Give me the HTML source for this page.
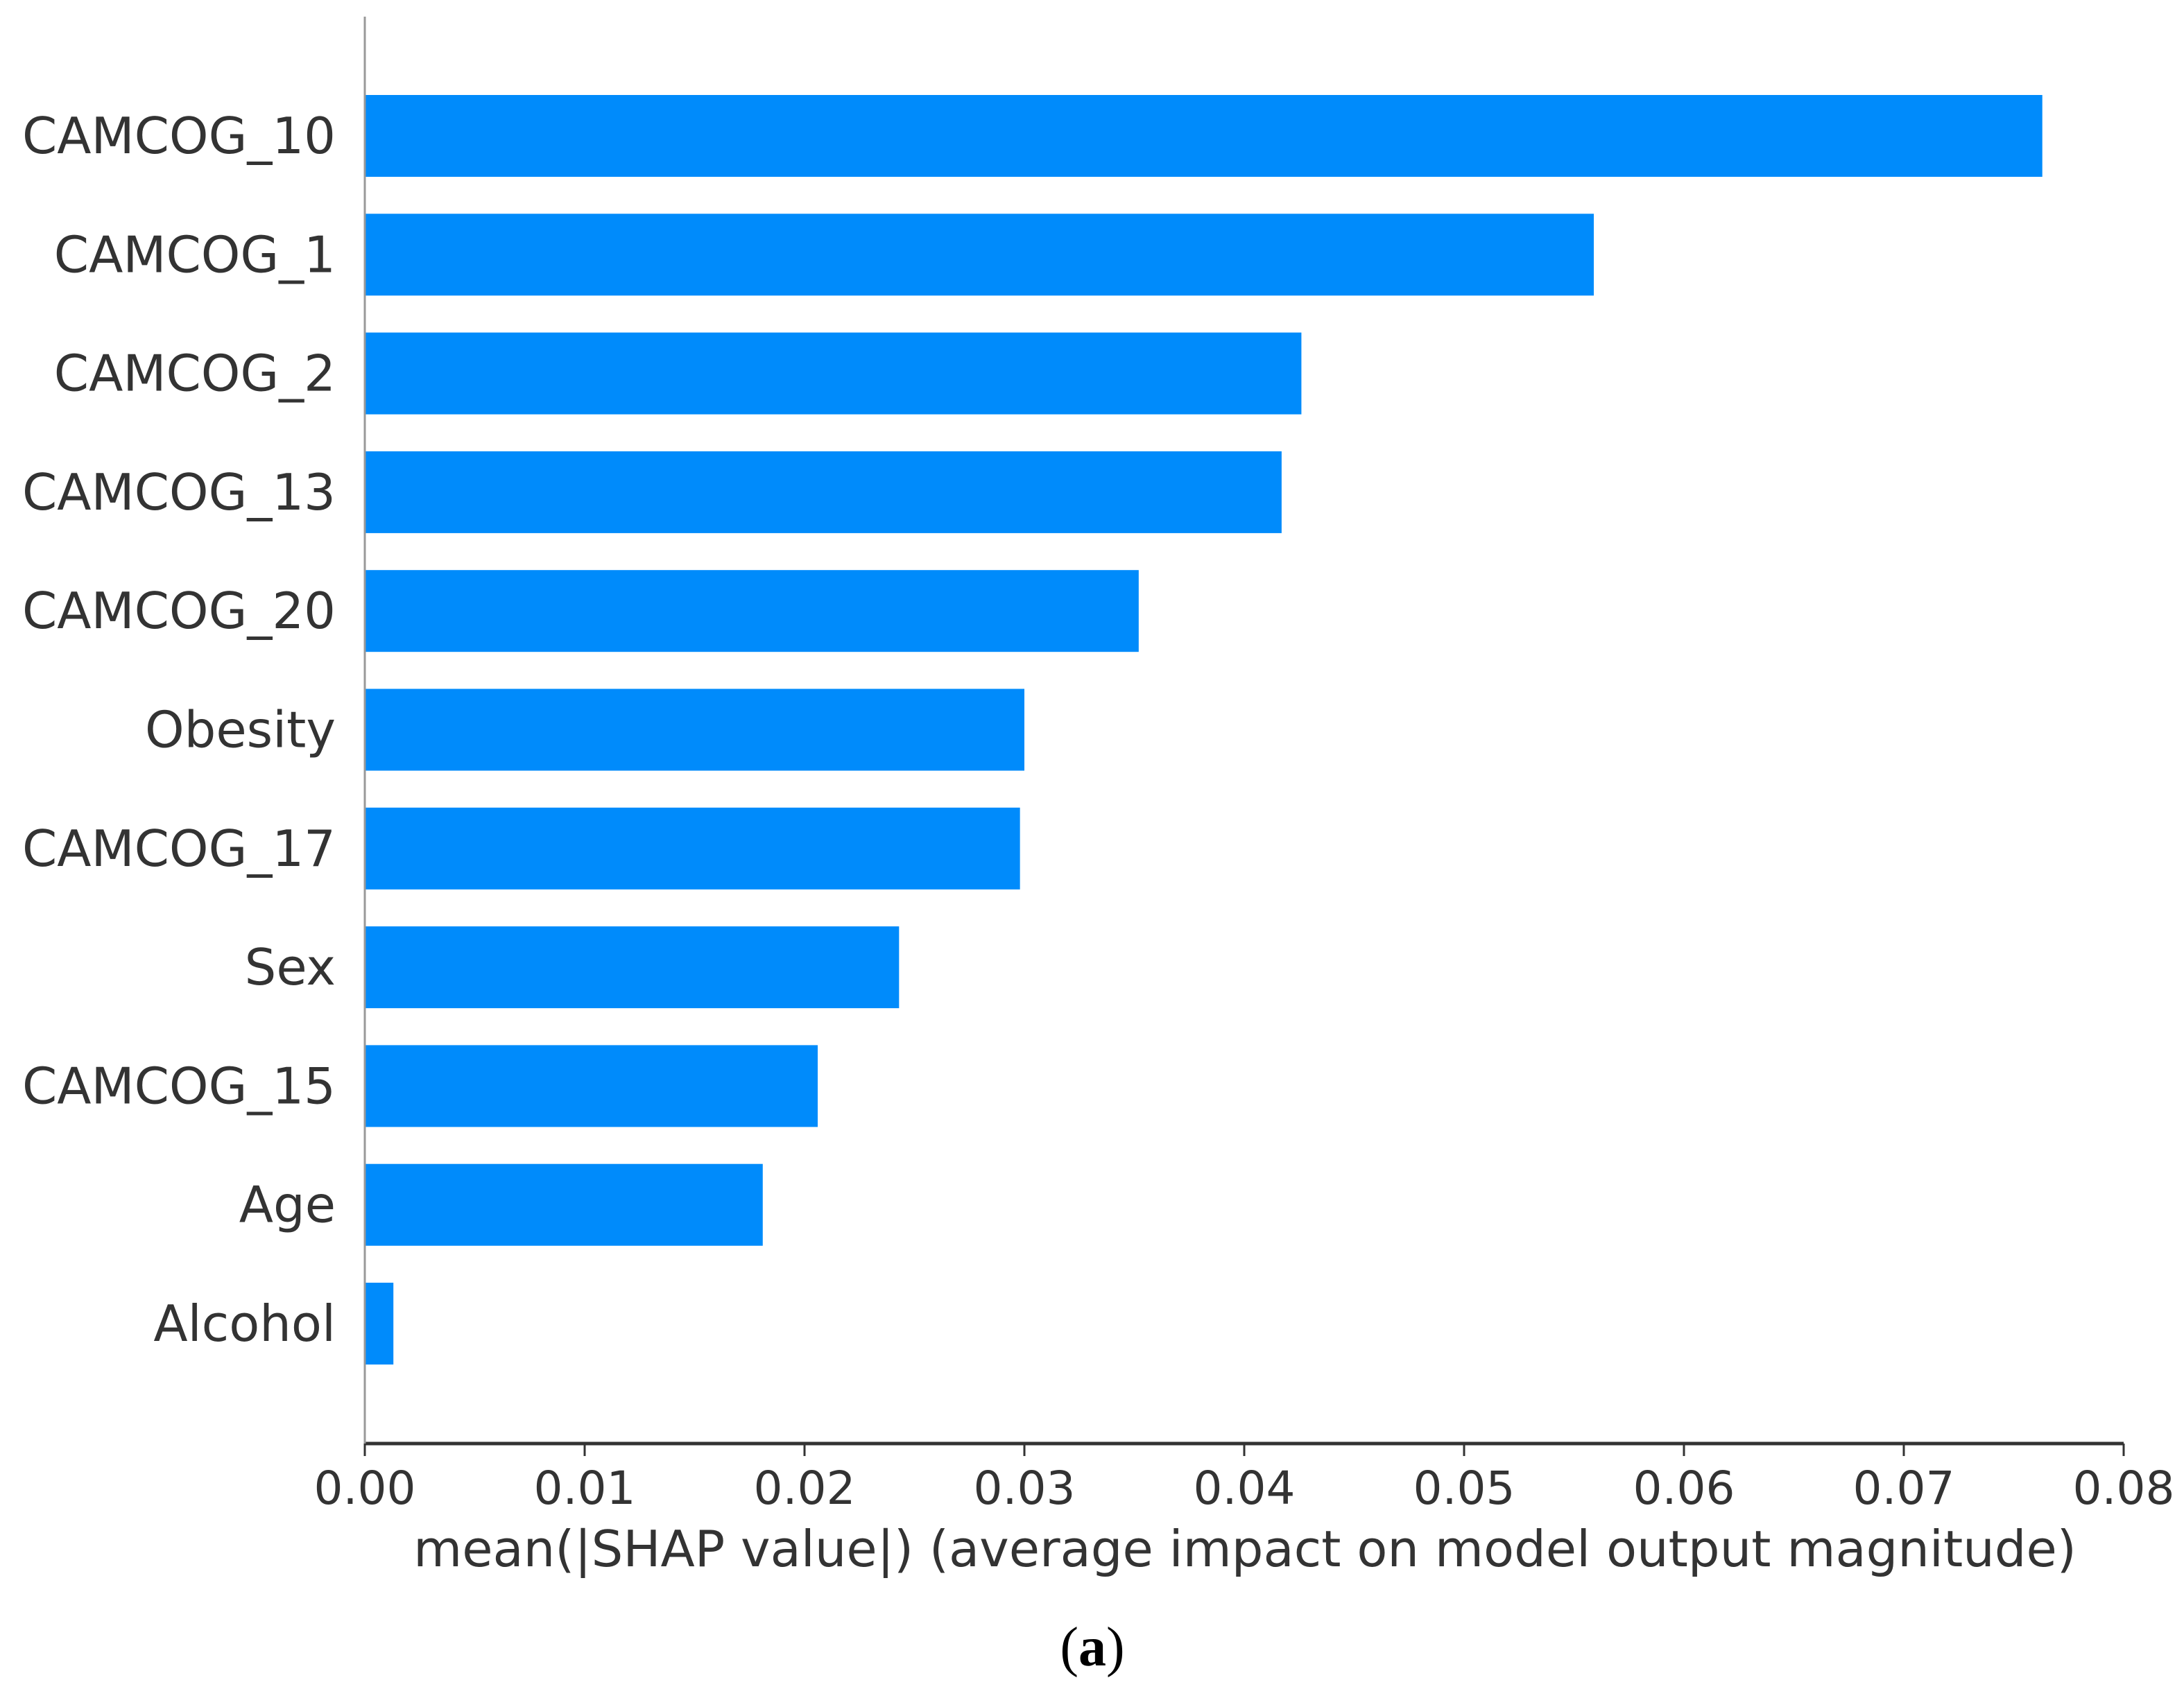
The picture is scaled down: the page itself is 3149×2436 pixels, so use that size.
<!DOCTYPE html>
<html><head><meta charset="utf-8"><style>
html,body{margin:0;padding:0;background:#fff;}
svg{display:block;}
text{font-family:"DejaVu Sans","Liberation Sans",sans-serif;fill:#333;}
</style></head><body>
<svg id="chart" width="3149" height="2436" viewBox="0 0 3149 2436" xmlns="http://www.w3.org/2000/svg">
<g id="bars"></g>
<g id="ylabels"></g>
<g id="xaxis"></g>
<line x1="526" y1="24" x2="526" y2="2082" stroke="#999" stroke-width="3"/>
<text x="1795" y="2259" font-size="72" text-anchor="middle">mean(|SHAP value|) (average impact on model output magnitude)</text>
<text x="1575" y="2402" font-size="80" text-anchor="middle" style="font-family:'Liberation Serif',serif;fill:#000">(<tspan font-weight="bold">a</tspan>)</text>
</svg>
<script>
const features = ["CAMCOG_10","CAMCOG_1","CAMCOG_2","CAMCOG_13","CAMCOG_20","Obesity","CAMCOG_17","Sex","CAMCOG_15","Age","Alcohol"];
const values = [0.0763,0.0559,0.0426,0.0417,0.0352,0.0300,0.0298,0.0243,0.0206,0.0181,0.0013];
const ticks = [0,0.01,0.02,0.03,0.04,0.05,0.06,0.07,0.08];
const tickLabels = ["0.00","0.01","0.02","0.03","0.04","0.05","0.06","0.07","0.08"];

const NS="http://www.w3.org/2000/svg";
const x0=526, x1=3062, xmax=0.08;
const xs=v=>x0+(v/xmax)*(x1-x0);
const firstCenter=196, pitch=171.3, barH=118;
const yc=i=>firstCenter+i*pitch;
function mk(tag,attrs,parent){const e=document.createElementNS(NS,tag);for(const k in attrs)e.setAttribute(k,attrs[k]);parent.appendChild(e);return e;}
const gb=document.getElementById('bars'), gl=document.getElementById('ylabels'), gx=document.getElementById('xaxis');
features.forEach((f,i)=>{
  const r=mk('rect',{x:x0,y:yc(i)-barH/2,width:xs(values[i])-x0,height:barH,fill:'#008bfb'},gb);
  
  
  const t=mk('text',{x:484,y:yc(i)+25,'font-size':72,'text-anchor':'end'},gl);
  t.textContent=f;
  
  
});
const ax=mk('line',{x1:x0,y1:2082,x2:x1,y2:2082,stroke:'#333','stroke-width':5},gx);


ticks.forEach((v,i)=>{
  const tk=mk('line',{x1:xs(v),y1:2082,x2:xs(v),y2:2100,stroke:'#333','stroke-width':3},gx);
  
  
  const t=mk('text',{x:xs(v),y:2169,'font-size':66,'text-anchor':'middle'},gx);
  t.textContent=tickLabels[i];
  
  
});
</script>
</body></html>
